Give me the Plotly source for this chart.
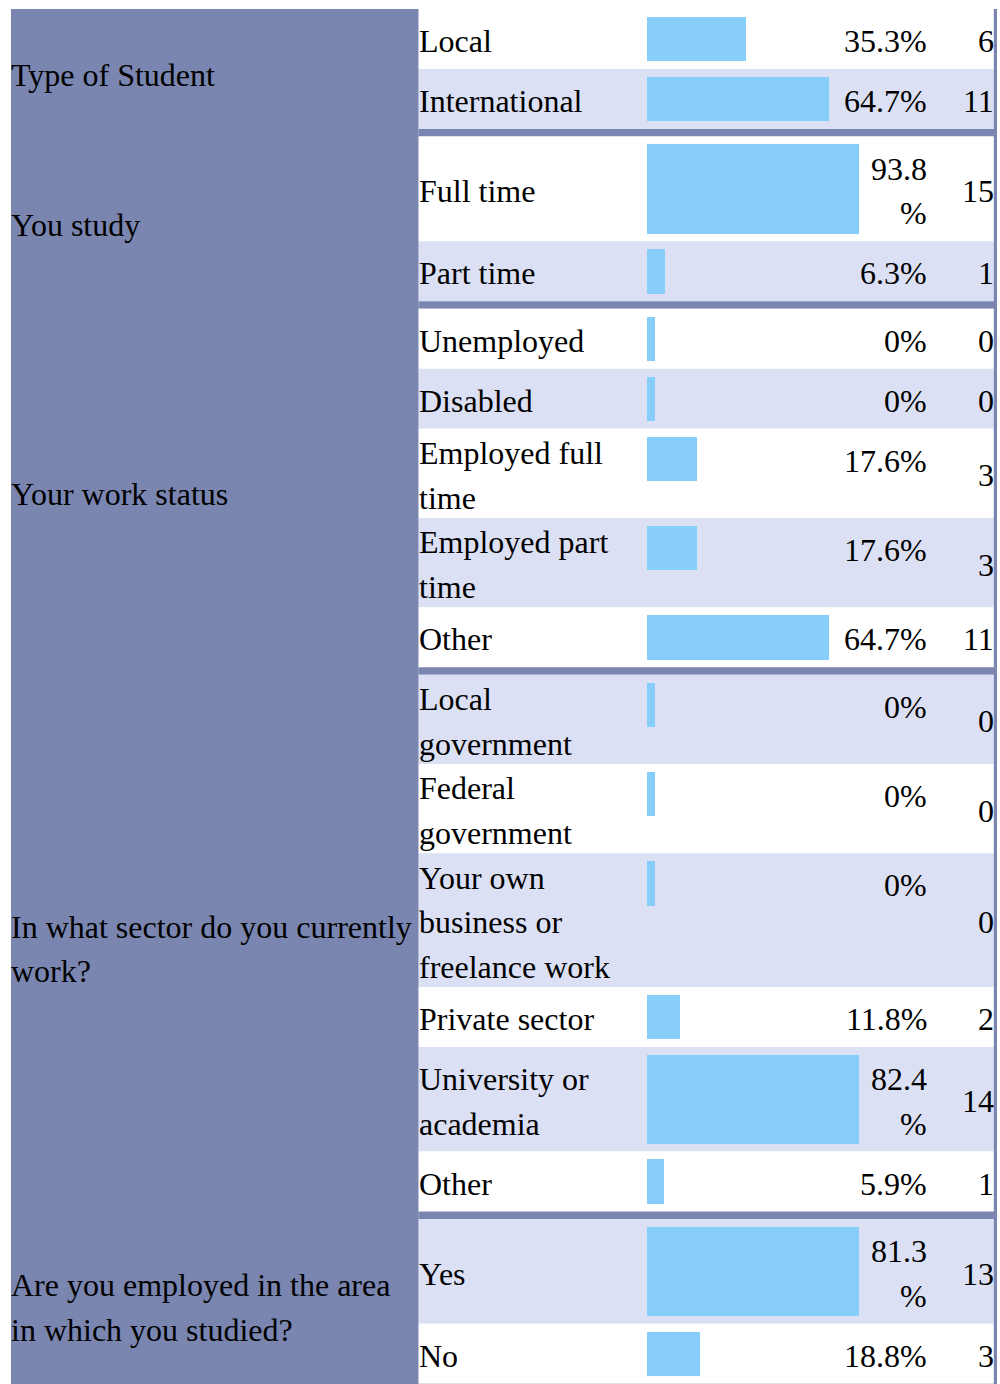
import plotly.graph_objects as go

# ---------------- data ----------------
GROUPS = [
    "Type of Student",
    "You study",
    "Your work status",
    "In what sector do you currently work?",
    "Are you employed in the area in which you studied?",
]
GROUP_SIZES = [2, 2, 5, 6, 2]
OPTIONS = [
    "Local", "International",
    "Full time", "Part time",
    "Unemployed", "Disabled", "Employed full time", "Employed part time", "Other",
    "Local government", "Federal government", "Your own business or freelance work",
    "Private sector", "University or academia", "Other",
    "Yes", "No",
]
PERCENTS = [35.3, 64.7, 93.8, 6.3, 0, 0, 17.6, 17.6, 64.7, 0, 0, 0, 11.8, 82.4, 5.9, 81.3, 18.8]
COUNTS = [6, 11, 15, 1, 0, 0, 3, 3, 11, 0, 0, 0, 2, 14, 1, 13, 3]

# ---------------- layout (text wrapping as in the page) ----------------
LABEL_WRAP = {
    "Employed full time": ["Employed full", "time"],
    "Employed part time": ["Employed part", "time"],
    "Local government": ["Local", "government"],
    "Federal government": ["Federal", "government"],
    "Your own business or freelance work": ["Your own", "business or", "freelance work"],
    "University or academia": ["University or", "academia"],
}
GROUP_WRAP = {
    "In what sector do you currently work?": ["In what sector do you currently", "work?"],
    "Are you employed in the area in which you studied?": ["Are you employed in the area", "in which you studied?"],
}

W, H = 1000, 1384
TOP = 9
LINE = 44.6
PAD = 15.4
SEP = 7.6
FONT = 32
TEXT_DY = 2.0         # plotly bbox-centre -> baseline correction
X_LEFT, X_SPLIT = 11, 418.7
X_GTEXT = 11
X_LABEL = 418.8
X_BAR0, X_BAR1 = 647, 859
X_PCT, X_CNT = 927, 993.8
X_BORDER0, X_BORDER1 = 993.8, 997
PX_PER_PCT = 2.813
MIN_BAR_PX = 8

DARK = "#7a86b0"
LAV = "#dce0f4"
BAR = "#87cefa"
FAMILY = "Liberation Serif, Times New Roman, serif"

shapes, annotations = [], []
bar_y, bar_w, bar_x = [], [], []


def px(x):
    return x / W


def add_text(lines, x, first_center, anchor):
    for k, t in enumerate(lines):
        annotations.append(dict(
            x=px(x), xref="paper", y=first_center + k * LINE + TEXT_DY, yref="y",
            text=t, showarrow=False, xanchor=anchor, yanchor="middle",
            borderpad=0, borderwidth=0, font=dict(family=FAMILY, size=FONT, color="black"),
        ))


# left column panel
shapes.append(dict(type="rect", xref="paper", yref="y", x0=px(X_LEFT), x1=px(X_SPLIT),
                   y0=TOP, y1=H + 20, fillcolor=DARK, line_width=0, layer="below"))

y = TOP
idx = 0
cell_w = X_BAR1 - X_BAR0
for g, n in zip(GROUPS, GROUP_SIZES):
    g_start = y
    for _ in range(n):
        label = OPTIONS[idx]
        pct = PERCENTS[idx]
        cnt = COUNTS[idx]
        lab_lines = LABEL_WRAP.get(label, [label])
        pct_lines = 2 if pct * PX_PER_PCT > cell_w else 1
        row_h = max(len(lab_lines) * LINE, pct_lines * LINE + PAD)
        fill = "white" if idx % 2 == 0 else LAV
        shapes.append(dict(type="rect", xref="paper", yref="y", x0=px(X_SPLIT), x1=px(X_BORDER0),
                           y0=y, y1=y + row_h, fillcolor=fill, line_width=0, layer="below"))
        # bar
        bh = pct_lines * LINE
        bar_y.append(y + PAD / 2 + bh / 2)
        bar_w.append(bh)
        bar_x.append(max(pct, MIN_BAR_PX / PX_PER_PCT))
        # label (vertically centred block)
        block = len(lab_lines) * LINE
        add_text(lab_lines, X_LABEL, y + (row_h - block) / 2 + LINE / 2, "left")
        # percentage (top aligned with bar)
        plines = [f"{pct:g}", "%"] if pct_lines == 2 else [f"{pct:g}%"]
        add_text(plines, X_PCT, y + PAD / 2 + LINE / 2, "right")
        # count (centred)
        add_text([str(cnt)], X_CNT, y + row_h / 2, "right")
        y += row_h
        idx += 1
    # group separator
    shapes.append(dict(type="rect", xref="paper", yref="y", x0=px(X_SPLIT), x1=px(X_BORDER1),
                       y0=y, y1=y + SEP, fillcolor=DARK, line_width=0, layer="below"))
    y += SEP
    g_lines = GROUP_WRAP.get(g, [g])
    gblock = len(g_lines) * LINE
    add_text(g_lines, X_GTEXT, g_start + (y - g_start - gblock) / 2 + LINE / 2, "left")

# right border
shapes.append(dict(type="rect", xref="paper", yref="y", x0=px(X_BORDER0), x1=px(X_BORDER1),
                   y0=TOP, y1=H + 20, fillcolor=DARK, line_width=0, layer="below"))

fig = go.Figure(go.Bar(
    x=bar_x, y=bar_y, width=bar_w, orientation="h",
    marker=dict(color=BAR, line_width=0), hoverinfo="skip", showlegend=False,
))
fig.update_layout(
    width=W, height=H, margin=dict(l=0, r=0, t=0, b=0, pad=0),
    paper_bgcolor="white", plot_bgcolor="rgba(0,0,0,0)",
    xaxis=dict(domain=[px(X_BAR0), px(X_BAR1)], range=[0, cell_w / PX_PER_PCT],
               visible=False, fixedrange=True),
    yaxis=dict(domain=[0, 1], range=[H, 0], visible=False, fixedrange=True),
    shapes=shapes, annotations=annotations, bargap=0,
)
fig.write_html(
    "out.html",
    config={"displayModeBar": False},
    post_script="document.body.style.margin='0';document.body.style.overflow='hidden';",
)
